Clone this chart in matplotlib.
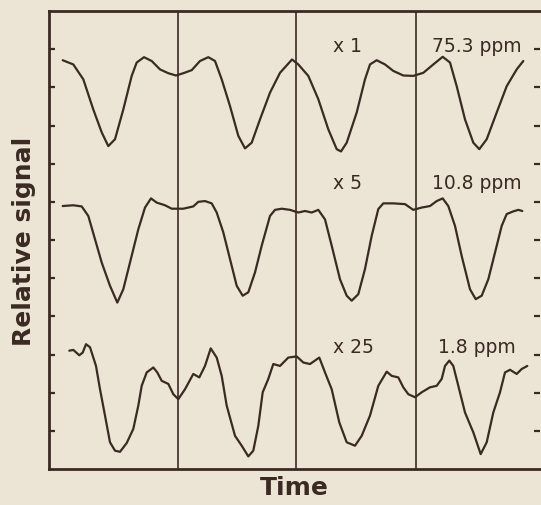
import matplotlib
matplotlib.use("Agg")
import matplotlib.pyplot as plt

BG = "#ece5d5"
INK = "#3b2a24"

# time (arbitrary units) and relative signal for the three concentrations
t_hi = [13.7, 24.3, 34.3, 44.3, 52.7, 59.3, 66, 74.3, 82.7, 87.7, 95, 102.7, 111, 119.3, 127,
        134.3, 142.7, 151, 159.3, 166, 172.7, 181, 189.3, 196, 202.7, 211, 221, 231, 243,
        249.3, 259.3, 269.3, 279.3, 287.7, 292, 297.7, 307.7, 316, 321, 327.7, 336, 344.3,
        354.3, 364.3, 374.3, 384.3, 393.7, 401, 407.7, 416, 424.3, 430.3, 437.7, 447.7,
        457.7, 467.7, 474.3]
s_hi = [10.71, 10.60, 10.21, 9.42, 8.82, 8.46, 8.64, 9.42, 10.30, 10.65, 10.79, 10.69, 10.47,
        10.37, 10.31, 10.37, 10.45, 10.69, 10.79, 10.69, 10.21, 9.51, 8.73, 8.40, 8.55, 9.16,
        9.86, 10.38, 10.73, 10.60, 10.30, 9.69, 8.90, 8.38, 8.32, 8.55, 9.34, 10.21, 10.60,
        10.71, 10.60, 10.43, 10.31, 10.30, 10.38, 10.60, 10.80, 10.65, 10.03, 9.16, 8.55,
        8.38, 8.64, 9.34, 10.03, 10.47, 10.69]

t_mid = [13.7, 24.3, 32.7, 39.3, 46, 52.7, 61, 68.3, 74.3, 81, 89.3, 96, 102, 107.7, 116,
         122.7, 134.3, 144.3, 149.3, 156, 162.7, 167.7, 174.3, 181, 187.7, 193.7, 199.3, 206,
         212.7, 221, 226, 232.7, 241, 249.3, 256, 262.7, 269.3, 276, 282.7, 291, 297.7, 302.7,
         309.3, 316, 322.7, 329.3, 334.3, 344.3, 356, 364.3, 372.7, 381, 387.7, 393.7, 399.3,
         406, 412.7, 421, 426.7, 432.7, 439.3, 446, 452.7, 457.7, 464.3, 469.3, 473.3]
s_mid = [6.89, 6.91, 6.88, 6.63, 6.02, 5.41, 4.80, 4.36, 4.71, 5.41, 6.28, 6.85, 7.09, 6.98,
         6.91, 6.82, 6.82, 6.88, 7.00, 7.02, 6.96, 6.72, 6.20, 5.50, 4.80, 4.54, 4.63, 5.15,
         5.85, 6.63, 6.79, 6.82, 6.79, 6.72, 6.76, 6.72, 6.79, 6.54, 5.85, 4.97, 4.54, 4.41,
         4.58, 5.24, 6.11, 6.81, 6.96, 6.96, 6.94, 6.79, 6.85, 6.89, 7.02, 7.09, 6.89, 6.37,
         5.58, 4.71, 4.45, 4.54, 4.97, 5.67, 6.37, 6.68, 6.75, 6.79, 6.76]

t_lo = [20.3, 24.3, 30.3, 33.7, 37, 41, 47, 51, 56, 61, 66, 71, 77.7, 84.3, 89.3, 92.7, 97.7,
        104.3, 108.3, 112.7, 119.3, 124.3, 129.3, 136, 144.3, 150.3, 156, 161.7, 167.7, 172.7,
        177.7, 186, 192.7, 199.3, 204.3, 209.3, 213.7, 219.3, 224.3, 231, 239.3, 247.7, 254.3,
        261, 270.3, 276, 282.7, 290.3, 297.7, 306, 312.7, 321, 329.3, 337.7, 342.7, 349.3,
        354.3, 359.3, 366, 372.7, 381, 387.7, 392.7, 396, 400.3, 404.3, 409.3, 416, 424.3,
        431.7, 437.7, 444.3, 451, 456, 461, 467.7, 472.7, 478.3]
s_lo = [3.10, 3.12, 2.98, 3.05, 3.27, 3.19, 2.70, 2.09, 1.40, 0.70, 0.48, 0.45, 0.68, 1.05,
        1.66, 2.18, 2.53, 2.66, 2.53, 2.31, 2.23, 1.96, 1.83, 2.09, 2.49, 2.40, 2.70, 3.16,
        2.92, 2.44, 1.66, 0.87, 0.61, 0.33, 0.48, 1.13, 2.01, 2.36, 2.75, 2.70, 2.92, 2.95,
        2.79, 2.75, 2.92, 2.53, 2.09, 1.22, 0.70, 0.61, 0.87, 1.40, 2.18, 2.55, 2.44, 2.40,
        2.14, 1.96, 1.88, 2.01, 2.14, 2.18, 2.36, 2.70, 2.84, 2.70, 2.18, 1.48, 0.96, 0.39,
        0.70, 1.48, 2.01, 2.53, 2.60, 2.49, 2.62, 2.70]

gains = ["x 1", "x 5", "x 25"]
concs = ["75.3 ppm", "10.8 ppm", "1.8 ppm"]
label_y = [11.1, 7.51, 3.22]
markers_t = [129, 247, 367]   # vertical time markers

fig = plt.figure(figsize=(5.41, 5.06), dpi=100, facecolor=BG)
ax = fig.add_axes([49 / 541, 36 / 506, 491 / 541, 458 / 506], facecolor=BG)

for t, s in [(t_hi, s_hi), (t_mid, s_mid), (t_lo, s_lo)]:
    ax.plot(t, s, color=INK, lw=1.6, solid_joinstyle="round", solid_capstyle="round")
for m in markers_t:
    ax.axvline(m, color=INK, lw=1.2)

for g, c, y in zip(gains, concs, label_y):
    ax.text(284, y, g, ha="left", va="center", fontsize=13.5, color=INK)
    ax.text(428, y, c, ha="center", va="center", fontsize=13.5, color=INK)

ax.set_xlim(0, 491)
ax.set_ylim(0, 12)
ax.set_xticks([])
ax.set_yticks(range(1, 12))
ax.set_yticklabels([])
ax.tick_params(axis="y", direction="in", length=4, width=1.6, color=INK, right=True)
for side in ["left", "top", "bottom"]:
    ax.spines[side].set_color(INK)
    ax.spines[side].set_linewidth(2)
ax.spines["right"].set_visible(False)

ax.set_xlabel("Time", fontsize=18, fontweight="bold", color=INK, labelpad=4)
ax.set_ylabel("Relative signal", fontsize=18, fontweight="bold", color=INK, labelpad=6)

fig.savefig("out.png", dpi=100, facecolor=BG)
